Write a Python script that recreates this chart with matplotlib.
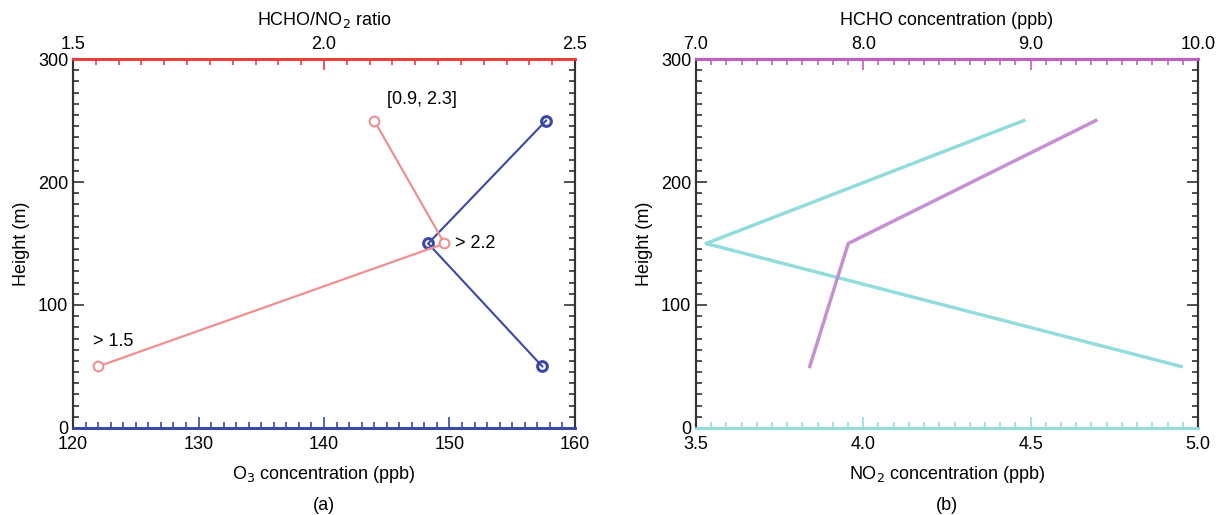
import numpy as np
import matplotlib.pyplot as plt

plt.rcParams['font.family'] = ['Liberation Sans', 'DejaVu Sans']

# Data
height = [50, 150, 250]
o3 = [157.4, 148.3, 157.7]            # O3 concentration (ppb), bottom axis (a)
ratio = [1.55, 2.24, 2.10]            # HCHO/NO2 ratio, top axis (a)
ratio_labels = ['> 1.5', '> 2.2', '[0.9, 2.3]']
no2 = [4.95, 3.53, 4.48]              # NO2 concentration (ppb), bottom axis (b)
hcho = [7.68, 7.91, 9.39]             # HCHO concentration (ppb), top axis (b)

RED_AX = '#ee3b3b'
RED_LN = '#ee9090'
BLUE = '#3a47a6'
PURP_AX = '#c45cc4'
PURP_LN = '#c690d2'
CYAN = '#92dcdc'
DARK = '#333333'
FS = 13


def minor_ticks(lo, hi, step, n):
    return np.linspace(lo, hi, int(round((hi - lo) / step)) * n + 1)


def style(ax, top, bcol, tcol, xlim, xmaj, xstep, xn, tlim, tmaj, tstep, tn):
    ax.set_ylim(0, 300)
    ax.set_yticks([0, 100, 200, 300])
    ax.set_yticks(minor_ticks(0, 300, 100, 11), minor=True)
    ax.tick_params(axis='y', which='both', direction='in', left=True, right=True,
                   colors=DARK, labelcolor='black', labelsize=FS)
    ax.tick_params(axis='y', which='major', length=8, width=1.2)
    ax.tick_params(axis='y', which='minor', length=4, width=1.2)
    ax.set_xlim(*xlim)
    ax.set_xticks(xmaj)
    ax.set_xticks(minor_ticks(xlim[0], xlim[1], xstep, xn), minor=True)
    ax.tick_params(axis='x', which='both', direction='in', colors=bcol,
                   labelcolor='black', labelsize=FS, top=False)
    ax.tick_params(axis='x', which='major', length=8, width=1.2, pad=6)
    ax.tick_params(axis='x', which='minor', length=4, width=1.2)
    top.set_xlim(*tlim)
    top.set_xticks(tmaj)
    top.set_xticks(minor_ticks(tlim[0], tlim[1], tstep, tn), minor=True)
    top.tick_params(axis='x', which='both', direction='in', colors=tcol,
                    labelcolor='black', labelsize=FS)
    top.tick_params(axis='x', which='major', length=8, width=1.2, pad=4)
    top.tick_params(axis='x', which='minor', length=4, width=1.2)
    for a in (ax, top):
        a.spines['left'].set_color(DARK)
        a.spines['right'].set_color(DARK)
        a.spines['left'].set_linewidth(1.5)
        a.spines['right'].set_linewidth(1.5)
        a.spines['bottom'].set_color(bcol)
        a.spines['top'].set_color(tcol)
        a.spines['bottom'].set_linewidth(2)
        a.spines['top'].set_linewidth(2)
    ax.set_ylabel('Height (m)', fontsize=FS, labelpad=6)


fig = plt.figure(figsize=(12.21, 5.15), dpi=100)

# (a)
axa = fig.add_axes([0.0598, 0.169, 0.4111, 0.7164])
axa_t = axa.twiny()
style(axa, axa_t, BLUE, RED_AX, (120, 160), [120, 130, 140, 150, 160], 10, 10,
      (1.5, 2.5), [1.5, 2.0, 2.5], 0.5, 11)
axa.plot(o3, height, color=BLUE, lw=1.5, marker='o', ms=7, mfc='none',
         mec=BLUE, mew=2.2, zorder=3)
axa_t.plot(ratio, height, color=RED_LN, lw=1.6, marker='o', ms=7, mfc='white',
           mec=RED_LN, mew=1.5, zorder=2)
axa_t.text(ratio[0] - 0.01, height[0] + 20, ratio_labels[0], fontsize=FS, va='center')
axa_t.text(ratio[1] + 0.02, height[1], ratio_labels[1], fontsize=FS, va='center')
axa_t.text(ratio[2] + 0.025, height[2] + 17, ratio_labels[2], fontsize=FS, va='center')
axa.set_xlabel('O$_3$ concentration (ppb)', fontsize=FS, labelpad=8)
axa_t.set_xlabel('HCHO/NO$_2$ ratio', fontsize=FS, labelpad=8)
axa.xaxis.set_major_formatter(plt.FormatStrFormatter('%d'))
axa_t.xaxis.set_major_formatter(plt.FormatStrFormatter('%.1f'))

# (b)
axb = fig.add_axes([0.570, 0.169, 0.4111, 0.7164])
axb_t = axb.twiny()
style(axb, axb_t, CYAN, PURP_AX, (3.5, 5.0), [3.5, 4.0, 4.5, 5.0], 0.5, 11,
      (7.0, 10.0), [7.0, 8.0, 9.0, 10.0], 1.0, 11)
axb.plot(no2, height, color=CYAN, lw=2.5, zorder=2)
axb_t.plot(hcho, height, color=PURP_LN, lw=2.5, zorder=3)
axb.set_xlabel('NO$_2$ concentration (ppb)', fontsize=FS, labelpad=8)
axb_t.set_xlabel('HCHO concentration (ppb)', fontsize=FS, labelpad=8)
axb.xaxis.set_major_formatter(plt.FormatStrFormatter('%.1f'))
axb_t.xaxis.set_major_formatter(plt.FormatStrFormatter('%.1f'))

fig.text(0.2654, 0.019, '(a)', fontsize=FS, ha='center', va='center')
fig.text(0.7756, 0.019, '(b)', fontsize=FS, ha='center', va='center')

fig.savefig('out.png', dpi=100)
